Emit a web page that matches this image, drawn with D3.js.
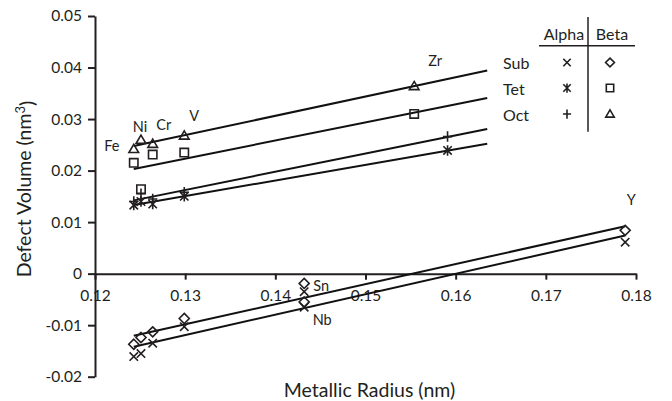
<!DOCTYPE html>
<html><head><meta charset="utf-8">
<script src="https://cdn.jsdelivr.net/npm/d3@7"></script>
<style>
html,body{margin:0;padding:0;background:#fff;}
svg{display:block;font-family:Lato,"Open Sans",sans-serif;}
</style></head>
<body><svg id="c" width="672" height="401"></svg>
<script>
// ---- data ----
const metalsSub = ["Fe","Ni","Cr","V","Sn","Nb","Y"];
const radiusSub = [0.1243,0.1251,0.1264,0.1299,0.1432,0.1432,0.1788];
const subAlpha  = [-0.0161,-0.0155,-0.0135,-0.0103,-0.0035,-0.0065,0.0061];
const subBeta   = [-0.0137,-0.0124,-0.0113,-0.0087,-0.0019,-0.0055,0.0084];

const metalsInt = ["Fe","Ni","Cr","V","Zr"];
const radiusAlphaInt = [0.1243,0.1251,0.1264,0.1299,0.1591];
const radiusBetaInt  = [0.1243,0.1251,0.1264,0.1299,0.1554];
const tetAlpha = [0.0133,0.0140,0.0135,0.0150,0.0239];
const octAlpha = [0.0140,0.0155,0.0145,0.0158,0.0266];
const tetBeta  = [0.0215,0.0164,0.0231,0.0235,0.0310];
const octBeta  = [0.0242,0.0260,0.0252,0.0268,0.0364];
const interstitialFitEnd = 0.1635;

const xTicks = [0.12,0.13,0.14,0.15,0.16,0.17,0.18];
const yTicks = [-0.02,-0.01,0,0.01,0.02,0.03,0.04,0.05];
const legendRows = ["Sub","Tet","Oct"];
const legendCols = ["Alpha","Beta"];

// ---- setup ----
const svg = d3.select("#c");
const x = d3.scaleLinear().domain([0.12,0.18]).range([95,636]);
const y = d3.scaleLinear().domain([-0.02,0.05]).range([376.7,16]);
const fmt = d => d===0 ? "0" : String(+d.toFixed(2));

// marker shapes
const shapes = {
  x: s => `M${-s},${-s}L${s},${s}M${-s},${s}L${s},${-s}`,
  star: s => `M${-s},${-s}L${s},${s}M${-s},${s}L${s},${-s}M0,${-s*1.25}L0,${s*1.25}`,
  plus: s => `M${-s*1.1},0L${s*1.1},0M0,${-s*1.25}L0,${s*1.25}`,
  diamond: s => `M0,${-s*1.2}L${s*1.2},0L0,${s*1.2}L${-s*1.2},0Z`,
  square: s => `M${-s},${-s}H${s}V${s}H${-s}Z`,
  triangle: s => `M0,${-s*1.1}L${s*1.15},${s*0.85}L${-s*1.15},${s*0.85}Z`
};

const series = [
  {name:"subAlpha", xs:radiusSub, ys:subAlpha, shape:"x", fitEnd:null},
  {name:"subBeta",  xs:radiusSub, ys:subBeta,  shape:"diamond", fitEnd:null},
  {name:"tetAlpha", xs:radiusAlphaInt, ys:tetAlpha, shape:"star", fitEnd:interstitialFitEnd},
  {name:"octAlpha", xs:radiusAlphaInt, ys:octAlpha, shape:"plus", fitEnd:interstitialFitEnd},
  {name:"tetBeta",  xs:radiusBetaInt, ys:tetBeta, shape:"square", fitEnd:interstitialFitEnd},
  {name:"octBeta",  xs:radiusBetaInt, ys:octBeta, shape:"triangle", fitEnd:interstitialFitEnd}
];

function fit(xs, ys){
  const n = xs.length, mx = d3.mean(xs), my = d3.mean(ys);
  let sxy=0, sxx=0;
  for(let i=0;i<n;i++){ sxy+=(xs[i]-mx)*(ys[i]-my); sxx+=(xs[i]-mx)**2; }
  const b = sxy/sxx; return {b, a: my - b*mx};
}

// ---- axes ----
const yAx = svg.append("g").attr("transform",`translate(${x(0.12)},0)`)
  .call(d3.axisLeft(y).tickValues(yTicks).tickFormat(fmt).tickSize(7).tickSizeOuter(0).tickPadding(6));
const xAx = svg.append("g").attr("transform",`translate(0,${y(0)})`)
  .call(d3.axisBottom(x).tickValues(xTicks).tickFormat(fmt).tickSize(6).tickSizeOuter(0).tickPadding(10));
[xAx,yAx].forEach(g=>{
  g.select(".domain").attr("stroke","#231f20").attr("stroke-width",2);
  g.selectAll(".tick line").attr("stroke","#231f20").attr("stroke-width",2);
  g.selectAll(".tick text").attr("fill","#231f20").style("font-size","15.5px").style("font-family","Lato, sans-serif");
});

// ---- trend lines ----
const lineG = svg.append("g");
series.forEach(s=>{
  const f = fit(s.xs, s.ys);
  const x0 = d3.min(s.xs), x1 = s.fitEnd ?? d3.max(s.xs);
  lineG.append("line")
    .attr("x1",x(x0)).attr("y1",y(f.a+f.b*x0))
    .attr("x2",x(x1)).attr("y2",y(f.a+f.b*x1))
    .attr("stroke","#111").attr("stroke-width",2);
});

// ---- markers ----
const mG = svg.append("g");
series.forEach(s=>{
  s.xs.forEach((xv,i)=>{
    mG.append("path").attr("d",shapes[s.shape](4.2))
      .attr("transform",`translate(${x(xv)},${y(s.ys[i])})`)
      .attr("fill","none").attr("stroke","#231f20").attr("stroke-width",1.6);
  });
});

// ---- element labels ----
const labelAnchors = [
  {t:"Fe", s:"octBeta", i:0, dx:-22, dy:-3},
  {t:"Ni", s:"octBeta", i:1, dx:-1, dy:-13},
  {t:"Cr", s:"octBeta", i:2, dx:11, dy:-19},
  {t:"V",  s:"octBeta", i:3, dx:10, dy:-20},
  {t:"Zr", s:"octBeta", i:4, dx:21, dy:-25},
  {t:"Sn", s:"subBeta", i:4, dx:17, dy:2},
  {t:"Nb", s:"subAlpha", i:5, dx:18, dy:13},
  {t:"Y",  s:"subBeta", i:6, dx:6, dy:-30}
];
labelAnchors.forEach(l=>{
  const s = series.find(q=>q.name===l.s);
  svg.append("text").attr("x",x(s.xs[l.i])+l.dx).attr("y",y(s.ys[l.i])+l.dy)
    .attr("text-anchor","middle").attr("dy","0.35em")
    .style("font-size","14.5px").attr("fill","#231f20").text(l.t);
});

// ---- axis titles ----
svg.append("text").attr("x",369.5).attr("y",390).attr("dy","0.35em").attr("text-anchor","middle")
  .style("font-size","19.5px").attr("fill","#231f20").text("Metallic Radius (nm)");
const yt = svg.append("text").attr("transform","translate(24,189) rotate(-90)")
  .attr("text-anchor","middle").attr("dy","0.35em").style("font-size","19.5px").attr("fill","#231f20");
yt.append("tspan").text("Defect Volume (nm");
yt.append("tspan").attr("dy","-0.45em").style("font-size","13px").text("3");
yt.append("tspan").attr("dy","0.45em").text(")");

// ---- legend ----
const lg = svg.append("g");
const colX = [567,610], rowY = [62.5,88,114];
lg.append("line").attr("x1",539).attr("x2",635).attr("y1",45.7).attr("y2",45.7).attr("stroke","#231f20").attr("stroke-width",1.5);
lg.append("line").attr("x1",588).attr("x2",588).attr("y1",17).attr("y2",131.7).attr("stroke","#231f20").attr("stroke-width",1.5);
legendCols.forEach((c,j)=>lg.append("text").attr("x",colX[j]-(j===0?3:-2)).attr("y",34).attr("dy","0.35em")
  .attr("text-anchor","middle").style("font-size","16px").attr("fill","#231f20").text(c));
legendRows.forEach((r,i)=>lg.append("text").attr("x",503).attr("y",rowY[i]+1).attr("dy","0.35em")
  .style("font-size","16px").attr("fill","#231f20").text(r));
const legendShapes = [["x","diamond"],["star","square"],["plus","triangle"]];
legendShapes.forEach((row,i)=>row.forEach((sh,j)=>{
  lg.append("path").attr("d",shapes[sh](3.7)).attr("transform",`translate(${colX[j]},${rowY[i]})`)
    .attr("fill","none").attr("stroke","#231f20").attr("stroke-width",1.6);
}));
</script></body></html>
